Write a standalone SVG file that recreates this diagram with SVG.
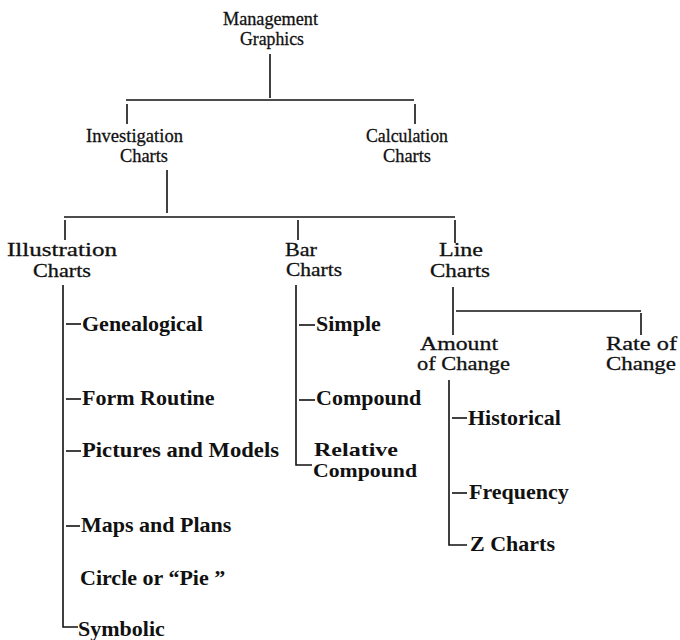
<svg xmlns="http://www.w3.org/2000/svg" width="680" height="640" viewBox="0 0 680 640">
<style>
.h{font-family:"Liberation Serif",serif;font-size:19.5px;fill:#111;stroke:#111;stroke-width:0.3}
.i{font-family:"Liberation Serif",serif;font-size:22px;font-weight:bold;fill:#111}
.r{font-family:"Liberation Serif",serif;font-size:19px;font-weight:bold;fill:#111}
.c line,.c path{stroke:#111;stroke-width:1.6;fill:none}
</style>
<rect width="680" height="640" fill="#fff"/>
<g class="c" id="connectors">
<line x1="270" y1="54" x2="270" y2="98"/>
<line x1="126" y1="100" x2="414" y2="100"/>
<line x1="127" y1="104" x2="127" y2="124"/>
<line x1="415" y1="104" x2="415" y2="124"/>
<line x1="167" y1="170" x2="167" y2="213"/>
<line x1="64" y1="217" x2="455" y2="217"/>
<line x1="65" y1="220" x2="65" y2="240"/>
<line x1="298" y1="220" x2="298" y2="240"/>
<line x1="455" y1="220" x2="455" y2="243"/>
<path d="M63 285 V627 H78"/>
<line x1="66" y1="324" x2="81" y2="324"/>
<line x1="66" y1="399" x2="81" y2="399"/>
<line x1="66" y1="451" x2="81" y2="451"/>
<line x1="66" y1="526" x2="80" y2="526"/>
<path d="M296 285 V465 H312"/>
<line x1="299" y1="325" x2="315" y2="325"/>
<line x1="299" y1="400" x2="315" y2="400"/>
<line x1="453" y1="287" x2="453" y2="335"/>
<line x1="456" y1="311" x2="641" y2="311"/>
<line x1="641" y1="313" x2="641" y2="335"/>
<path d="M449 380 V545 H467"/>
<line x1="452" y1="418" x2="467" y2="418"/>
<line x1="452" y1="493" x2="467" y2="493"/>
</g>
<g id="n-management"><text class="h" x="223" y="25" textLength="95" lengthAdjust="spacingAndGlyphs">Management</text><text class="h" x="240" y="45" textLength="64" lengthAdjust="spacingAndGlyphs">Graphics</text></g>
<g id="n-investigation"><text class="h" x="86" y="142" textLength="97" lengthAdjust="spacingAndGlyphs">Investigation</text><text class="h" x="120" y="162" textLength="48" lengthAdjust="spacingAndGlyphs">Charts</text></g>
<g id="n-calculation"><text class="h" x="366" y="142" textLength="82" lengthAdjust="spacingAndGlyphs">Calculation</text><text class="h" x="383" y="162" textLength="48" lengthAdjust="spacingAndGlyphs">Charts</text></g>
<g id="n-illustration"><text class="h" x="7" y="256" textLength="110" lengthAdjust="spacingAndGlyphs">Illustration</text><text class="h" x="33" y="277" textLength="58" lengthAdjust="spacingAndGlyphs">Charts</text></g>
<g id="n-bar"><text class="h" x="285" y="256" textLength="32" lengthAdjust="spacingAndGlyphs">Bar</text><text class="h" x="286" y="276" textLength="56" lengthAdjust="spacingAndGlyphs">Charts</text></g>
<g id="n-line"><text class="h" x="439" y="256" textLength="44" lengthAdjust="spacingAndGlyphs">Line</text><text class="h" x="430" y="277" textLength="60" lengthAdjust="spacingAndGlyphs">Charts</text></g>
<g id="n-amount"><text class="h" x="420" y="350" textLength="78" lengthAdjust="spacingAndGlyphs">Amount</text><text class="h" x="417" y="370" textLength="93" lengthAdjust="spacingAndGlyphs">of Change</text></g>
<g id="n-rate"><text class="h" x="606" y="350" textLength="71" lengthAdjust="spacingAndGlyphs">Rate of</text><text class="h" x="606" y="370" textLength="70" lengthAdjust="spacingAndGlyphs">Change</text></g>
<g id="n-genealogical"><text class="i" x="82" y="331">Genealogical</text></g>
<g id="n-form"><text class="i" x="82" y="405">Form Routine</text></g>
<g id="n-pictures"><text class="i" x="82" y="457" textLength="197" lengthAdjust="spacingAndGlyphs">Pictures and Models</text></g>
<g id="n-maps"><text class="i" x="81" y="532">Maps and Plans</text></g>
<g id="n-circle"><text class="i" x="80" y="585">Circle or “Pie ”</text></g>
<g id="n-symbolic"><text class="i" x="78" y="636">Symbolic</text></g>
<g id="n-simple"><text class="i" x="316" y="331">Simple</text></g>
<g id="n-compound"><text class="i" x="316" y="405">Compound</text></g>
<g id="n-relative"><text class="r" x="314" y="456" textLength="84" lengthAdjust="spacingAndGlyphs">Relative</text><text class="r" x="313" y="477" textLength="104" lengthAdjust="spacingAndGlyphs">Compound</text></g>
<g id="n-historical"><text class="i" x="468" y="425">Historical</text></g>
<g id="n-frequency"><text class="i" x="469" y="499">Frequency</text></g>
<g id="n-zcharts"><text class="i" x="470" y="551">Z Charts</text></g>
</svg>
